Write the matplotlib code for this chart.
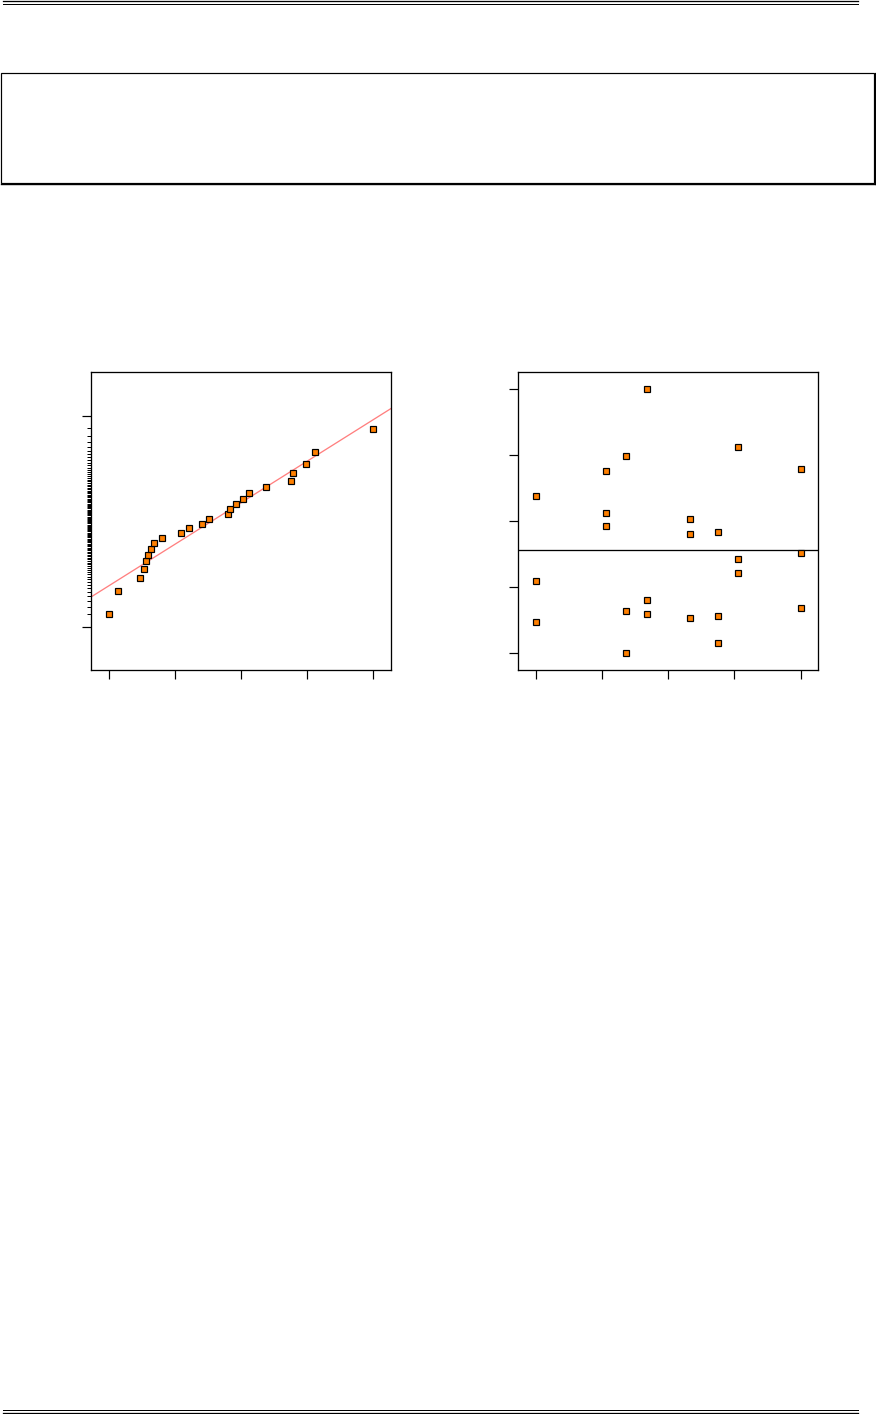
import numpy as np
import matplotlib
matplotlib.use("Agg")
import matplotlib.pyplot as plt
from matplotlib.lines import Line2D
from matplotlib.patches import Rectangle
from statistics import NormalDist

# ---------------- data ----------------
# right panel: residuals grouped by x level
group_x = [0.0, 1.07, 1.36, 1.69, 2.33, 2.76, 3.05, 4.0]
res_g0 = [0.82, -0.46, -1.09]
res_g1 = [1.20, 0.56, 0.36]
res_g2 = [1.42, -0.92, -1.56]
res_g3 = [2.44, -0.75, -0.96]
res_g4 = [0.47, 0.24, -1.03]
res_g5 = [0.28, -1.00, -1.41]
res_g6 = [1.56, -0.14, -0.35]
res_g7 = [1.23, -0.04, -0.88]
residual_groups = [res_g0, res_g1, res_g2, res_g3, res_g4, res_g5, res_g6, res_g7]

# probability-scale tick percentages for the normal plot
pct_ticks = list(range(1, 100))
pct_long = [1, 99]

# ---------------- figure ----------------
W, H = 876, 1414
DPI = 100
fig = plt.figure(figsize=(W / DPI, H / DPI), dpi=DPI)
fig.patch.set_facecolor("white")

PX = 72.0 / DPI  # points per pixel
ORANGE = "#ff8000"


def fx(x):
    return x / W


def fy(y):
    return 1 - y / H


# page decoration: double rules top & bottom
for y, lw in [(1.2, 1.3), (3.6, 1.0), (1410.3, 1.0), (1412.7, 1.3)]:
    fig.add_artist(Line2D([fx(2.5), fx(858)], [fy(y), fy(y)], color="black",
                          lw=lw * PX, transform=fig.transFigure))

# empty box with a shadow at bottom/right
fig.add_artist(Rectangle((fx(0.5), fy(183.3)), fx(874) - fx(0.5), fy(72.7) - fy(183.3),
                         fill=False, ec="black", lw=1.2 * PX, transform=fig.transFigure))
fig.add_artist(Line2D([fx(0.5), fx(875.5)], [fy(184.4), fy(184.4)], color="black",
                      lw=1.4 * PX, transform=fig.transFigure))
fig.add_artist(Line2D([fx(875.2), fx(875.2)], [fy(72.7), fy(184.4)], color="black",
                      lw=1.2 * PX, transform=fig.transFigure))


def axes_px(x0, y0, x1, y1):
    return fig.add_axes([fx(x0), fy(y1), fx(x1) - fx(x0), fy(y0) - fy(y1)])


def style_axes(ax):
    for s in ax.spines.values():
        s.set_linewidth(1.3 * PX)
        s.set_color("black")
    ax.tick_params(direction="out", length=9 * PX, width=1.2 * PX, color="black",
                   labelbottom=False, labelleft=False)


MS = 6.9 * PX
MEW = 1.2 * PX

# ---------------- left: normal probability plot ----------------
all_res = np.array([v for g in residual_groups for v in g])
n = len(all_res)
xs = np.sort(all_res)
nd = NormalDist()
zs = np.array([nd.inv_cdf((i - 0.5) / n) for i in range(1, n + 1)])

axL = axes_px(91.3, 372.3, 391.0, 670.0)
style_axes(axL)
xmin, xmax = xs.min(), xs.max()
rng = xmax - xmin
axL.set_xlim(xmin - 0.065 * rng, xmax + 0.067 * rng)
axL.set_ylim(-3.28, 3.28)
axL.set_xticks(np.linspace(xmin, xmax, 5))

axL.set_yticks([nd.inv_cdf(p / 100) for p in pct_long])
axL.set_yticks([nd.inv_cdf(p / 100) for p in pct_ticks if p not in pct_long], minor=True)
axL.tick_params(axis="y", which="major", length=9 * PX, width=1.2 * PX)
axL.tick_params(axis="y", which="minor", length=4.5 * PX, width=1.0 * PX,
                labelleft=False)
axL.tick_params(axis="x", which="minor", bottom=False)

# fitted line (least squares of normal quantiles on ordered values)
d, c = np.polyfit(xs, zs, 1)
xl = np.array(axL.get_xlim())
axL.plot(xl, c + d * xl, color="#ff7f7f", lw=1.3 * PX, zorder=2)
axL.plot(xs, zs, ls="none", marker="s", ms=MS, mfc=ORANGE, mec="black",
         mew=MEW, zorder=3, clip_on=False)

# ---------------- right: residuals vs x ----------------
axR = axes_px(518.3, 372.3, 818.3, 670.0)
style_axes(axR)
px_vals = np.array([gx for gx, g in zip(group_x, residual_groups) for _ in g])
py_vals = all_res
gxmin, gxmax = min(group_x), max(group_x)
grng = gxmax - gxmin
axR.set_xlim(gxmin - 0.065 * grng, gxmax + 0.067 * grng)
ymin, ymax = py_vals.min(), py_vals.max()
yr = ymax - ymin
axR.set_ylim(ymin - 0.063 * yr, ymax + 0.062 * yr)
axR.set_xticks(np.linspace(gxmin, gxmax, 5))
axR.set_yticks(np.linspace(ymin, ymax, 5))
axR.axhline(py_vals.mean(), color="black", lw=1.3 * PX, zorder=2)
axR.plot(px_vals, py_vals, ls="none", marker="s", ms=MS, mfc=ORANGE,
         mec="black", mew=MEW, zorder=3)

fig.savefig("out.png", dpi=DPI, facecolor="white")
